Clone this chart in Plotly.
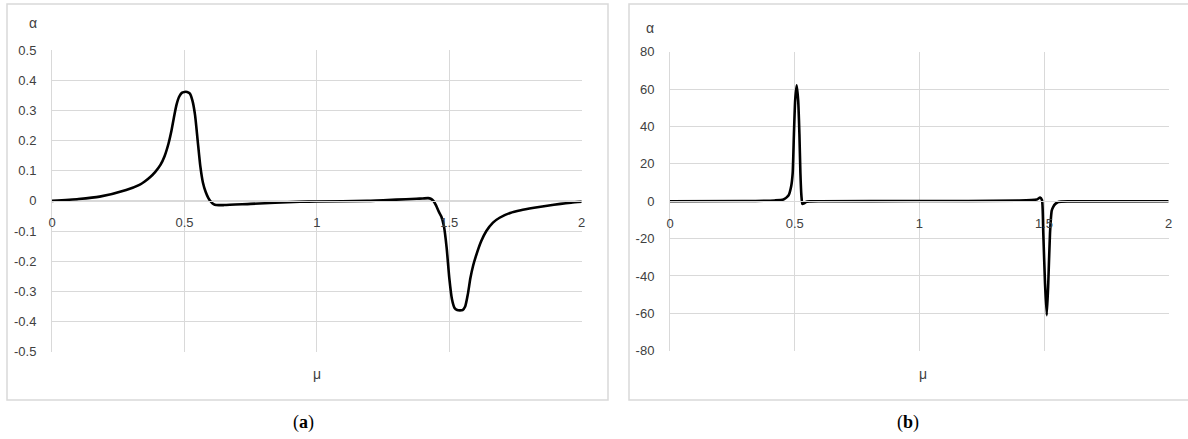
import plotly.graph_objects as go

W, H = 1188, 439

# ---------- data ----------
mu_a = [0.0, 0.1, 0.18, 0.28, 0.33, 0.35, 0.37, 0.39, 0.41, 0.425, 0.44, 0.45, 0.46, 0.47,
        0.48, 0.49, 0.50, 0.51, 0.52, 0.53, 0.54, 0.55, 0.56, 0.57, 0.58, 0.59, 0.60, 0.61,
        0.62, 0.65, 0.75, 0.936, 1.0, 1.19, 1.3, 1.376, 1.40, 1.42, 1.43, 1.44, 1.45, 1.46,
        1.47, 1.48, 1.49, 1.50, 1.51, 1.52, 1.53, 1.54, 1.55, 1.56, 1.57, 1.58, 1.59, 1.60,
        1.62, 1.64, 1.665, 1.69, 1.73, 1.77, 1.82, 1.87, 1.92, 1.96, 2.0]
alpha_a = [0.0, 0.006, 0.014, 0.036, 0.053, 0.064, 0.078, 0.096, 0.12, 0.148, 0.19, 0.228,
           0.275, 0.318, 0.345, 0.358, 0.361, 0.361, 0.356, 0.333, 0.285, 0.2, 0.115, 0.06,
           0.03, 0.01, -0.003, -0.011, -0.014, -0.014, -0.01, -0.003, -0.002, 0.0, 0.004,
           0.007, 0.008, 0.009, 0.007, 0.0, -0.015, -0.035, -0.052, -0.085, -0.155, -0.255,
           -0.325, -0.355, -0.362, -0.363, -0.362, -0.35, -0.31, -0.255, -0.215, -0.185,
           -0.135, -0.1, -0.072, -0.056, -0.04, -0.031, -0.023, -0.016, -0.01, -0.006, -0.003]

mu_b = [0.0, 0.3, 0.42, 0.455, 0.475, 0.486, 0.492, 0.497, 0.502, 0.508, 0.514, 0.519,
        0.523, 0.527, 0.531, 0.537, 0.545, 0.56, 0.6, 1.0, 1.4, 1.471, 1.484, 1.492, 1.497,
        1.504, 1.511, 1.517, 1.524, 1.531, 1.537, 1.545, 1.557, 1.6, 2.0]
alpha_b = [0.0, 0.1, 0.4, 0.9, 3, 8, 15, 36, 54, 62, 54, 36, 15, 3, -1.5, -1.2, -0.4, -0.1,
           0.0, 0.1, 0.3, 0.9, 2, 0.5, -17, -44, -61, -44, -17, -5, -3, -1.5, -0.4, -0.1, 0.0]

x_ticks = [0, 0.5, 1, 1.5, 2]
x_ticktext = ["0", "0.5", "1", "1.5", "2"]
y_ticks_a = [-0.5, -0.4, -0.3, -0.2, -0.1, 0, 0.1, 0.2, 0.3, 0.4, 0.5]
y_ticktext_a = ["-0.5", "-0.4", "-0.3", "-0.2", "-0.1", "0", "0.1", "0.2", "0.3", "0.4", "0.5"]
y_ticks_b = [-80, -60, -40, -20, 0, 20, 40, 60, 80]
y_ticktext_b = ["-80", "-60", "-40", "-20", "0", "20", "40", "60", "80"]

# ---------- layout helpers ----------
def fx(px):
    return px / W

def fy(py):
    return 1 - py / H

GRID = "#d9d9d9"
TXT = "#404040"
FONT = "Liberation Sans"

fig = go.Figure()
fig.add_trace(go.Scatter(x=mu_a, y=alpha_a, mode="lines", xaxis="x", yaxis="y",
                         line=dict(color="black", width=2.6, shape="spline", smoothing=0.6),
                         showlegend=False, hoverinfo="skip"))
fig.add_trace(go.Scatter(x=mu_b, y=alpha_b, mode="lines", xaxis="x2", yaxis="y2",
                         line=dict(color="black", width=2.6, shape="spline", smoothing=0.5),
                         showlegend=False, hoverinfo="skip"))

# plot areas (pixel, in the reference picture)
A = dict(l=52, r=581.7, t=50, b=351.7)
B = dict(l=670, r=1168.7, t=51.7, b=350.7)

def zero_pos(p):
    return fy((p["t"] + p["b"]) / 2)

common_x = dict(range=[0, 2], tickvals=x_ticks, ticktext=x_ticktext, showgrid=True,
                gridcolor=GRID, gridwidth=1, showline=True, linecolor=GRID, linewidth=1,
                zeroline=True, zerolinecolor=GRID, zerolinewidth=1, ticks="",
                tickfont=dict(family=FONT, size=13, color=TXT), ticklabelstandoff=10,
                fixedrange=True, automargin=False)
common_y = dict(showgrid=True, gridcolor=GRID, gridwidth=1, showline=True, linecolor=GRID,
                linewidth=1, zeroline=False, ticks="",
                tickfont=dict(family=FONT, size=13, color=TXT), ticklabelstandoff=12,
                fixedrange=True, automargin=False)

fig.update_layout(
    template="none",
    width=W, height=H, margin=dict(l=0, r=0, t=0, b=0, pad=0, autoexpand=False),
    paper_bgcolor="white", plot_bgcolor="white",
    xaxis=dict(domain=[fx(A["l"]), fx(A["r"])], anchor="free", position=zero_pos(A), **common_x),
    yaxis=dict(domain=[fy(A["b"]), fy(A["t"])], anchor="x", range=[-0.5, 0.5],
               tickvals=y_ticks_a, ticktext=y_ticktext_a, **common_y),
    xaxis2=dict(domain=[fx(B["l"]), fx(B["r"])], anchor="free", position=zero_pos(B), **common_x),
    yaxis2=dict(domain=[fy(B["b"]), fy(B["t"])], anchor="x2", range=[-80, 80],
                tickvals=y_ticks_b, ticktext=y_ticktext_b, **common_y),
)

# panel borders
fig.add_shape(type="rect", xref="paper", yref="paper", x0=fx(7), x1=fx(608), y0=fy(400), y1=fy(4),
              line=dict(color=GRID, width=1.5), layer="below")
fig.add_shape(type="rect", xref="paper", yref="paper", x0=fx(629), x1=fx(1200), y0=fy(400), y1=fy(4),
              line=dict(color=GRID, width=1.5), layer="below")

ann = []
def label(x, y, text, size=14, family=FONT, color=TXT):
    ann.append(dict(x=fx(x), y=fy(y), xref="paper", yref="paper", text=text, showarrow=False,
                    xanchor="center", yanchor="middle", font=dict(family=family, size=size, color=color)))

label(33, 23, "α")
label(650, 28, "α")
label(317, 374, "μ")
label(923, 374, "μ")
label(303, 422, "(<b>a</b>)", size=18, family="Liberation Serif", color="black")
label(908, 422, "(<b>b</b>)", size=18, family="Liberation Serif", color="black")
fig.update_layout(annotations=ann)

fig.write_html("out.html", config={"displayModeBar": False, "staticPlot": True},
               post_script="document.body.style.margin='0px';")
